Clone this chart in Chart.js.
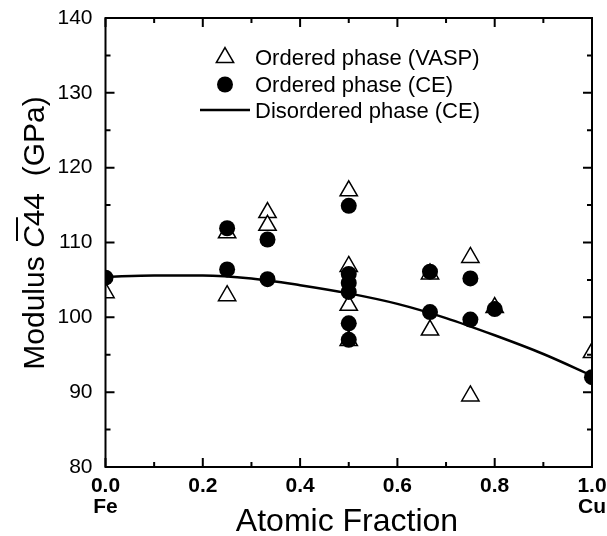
<!DOCTYPE html>
<html>
<head>
<meta charset="utf-8">
<script src="https://cdn.jsdelivr.net/npm/chart.js@4.4.1/dist/chart.umd.min.js"></script>
<style>
html,body{margin:0;padding:0;background:#fff;}
#wrap{width:607px;height:536px;}
</style>
</head>
<body>
<div id="wrap"><canvas id="c" width="607" height="536"></canvas></div>
<script>
// ---- data ----
const vaspX = [0.0, 0.25, 0.25, 0.333, 0.333, 0.5, 0.5, 0.5, 0.5, 0.667, 0.667, 0.75, 0.75, 0.8, 1.0];
const vaspY = [103.3, 111.3, 102.9, 114.0, 112.3, 116.9, 106.8, 101.6, 96.9, 105.8, 98.3, 108.0, 89.5, 101.3, 95.3];
const ceX = [0.0, 0.25, 0.25, 0.333, 0.333, 0.5, 0.5, 0.5, 0.5, 0.5, 0.5, 0.667, 0.667, 0.75, 0.75, 0.8, 1.0];
const ceY = [105.3, 111.9, 106.4, 110.4, 105.1, 114.9, 105.8, 104.6, 103.4, 99.2, 97.0, 106.1, 100.7, 105.2, 99.7, 101.1, 92.0];
const disX = [0.0, 0.1, 0.2, 0.3, 0.4, 0.5, 0.6, 0.7, 0.8, 0.9, 1.0];
const disY = [105.4, 105.6, 105.6, 105.2, 104.3, 103.2, 101.8, 99.9, 97.6, 95.1, 92.2];

const xMajorTicks = [0.0, 0.2, 0.4, 0.6, 0.8, 1.0];
const xMinorTicks = [0.1, 0.3, 0.5, 0.7, 0.9];
const yMajorTicks = [80, 90, 100, 110, 120, 130, 140];
const yMinorTicks = [85, 95, 105, 115, 125, 135];
const xEndNames = {0: 'Fe', 1: 'Cu'};

const seriesNames = ['Ordered phase (VASP)', 'Ordered phase (CE)', 'Disordered phase (CE)'];
const xTitle = 'Atomic Fraction';
const yTitleParts = ['Modulus ', 'C', '44', '  (GPa)'];

const zip = (xs, ys) => xs.map((x, i) => ({x: x, y: ys[i]}));

const framePlugin = {
  id: 'frame',
  afterDatasetsDraw(chart) {
    const ctx = chart.ctx, a = chart.chartArea;
    const xs = chart.scales.x, ys = chart.scales.y;
    ctx.save();
    ctx.strokeStyle = '#000';
    ctx.lineWidth = 2;
    ctx.strokeRect(a.left, a.top, a.right - a.left, a.bottom - a.top);
    ctx.beginPath();
    const xt = (v, len) => {
      const p = xs.getPixelForValue(v);
      ctx.moveTo(p, a.bottom); ctx.lineTo(p, a.bottom - len);
      ctx.moveTo(p, a.top); ctx.lineTo(p, a.top + len);
    };
    const yt = (v, len) => {
      const p = ys.getPixelForValue(v);
      ctx.moveTo(a.left, p); ctx.lineTo(a.left + len, p);
      ctx.moveTo(a.right, p); ctx.lineTo(a.right - len, p);
    };
    xMajorTicks.forEach(v => xt(v, 9));
    xMinorTicks.forEach(v => xt(v, 5));
    yMajorTicks.forEach(v => yt(v, 9));
    yMinorTicks.forEach(v => yt(v, 5));
    ctx.stroke();
    ctx.restore();
  },
  afterDraw(chart) {
    const ctx = chart.ctx;
    ctx.save();
    // legend
    ctx.fillStyle = '#000';
    ctx.strokeStyle = '#000';
    ctx.font = '22px "Liberation Sans", Arial, sans-serif';
    ctx.textBaseline = 'alphabetic';
    ctx.textAlign = 'left';
    const tx = 255;
    const rows = [65, 92, 118];
    const r = 10, cx = 225, cy = 57.5;
    ctx.beginPath();
    for (let k = 0; k < 3; k++) {
      const ang = k * 2 * Math.PI / 3;
      const px = cx + Math.sin(ang) * r, py = cy - Math.cos(ang) * r;
      if (k === 0) ctx.moveTo(px, py); else ctx.lineTo(px, py);
    }
    ctx.closePath();
    ctx.fillStyle = '#fff'; ctx.fill();
    ctx.lineWidth = 1.5; ctx.stroke();
    ctx.fillStyle = '#000';
    ctx.beginPath(); ctx.arc(225, 84.5, 8, 0, 2 * Math.PI); ctx.fill();
    ctx.lineWidth = 2.5;
    ctx.beginPath(); ctx.moveTo(200, 110); ctx.lineTo(250, 110); ctx.stroke();
    seriesNames.forEach((s, i) => ctx.fillText(s, tx, rows[i]));

    // x title
    ctx.font = '32px "Liberation Sans", Arial, sans-serif';
    ctx.textAlign = 'center';
    ctx.fillText(xTitle, 347, 531);

    // y title
    ctx.translate(44, 233);
    ctx.rotate(-Math.PI / 2);
    ctx.textAlign = 'left';
    const fN = '30px "Liberation Sans", Arial, sans-serif';
    const fI = 'italic 30px "Liberation Sans", Arial, sans-serif';
    const fonts = [fN, fI, fN, fN];
    const widths = yTitleParts.map((t, i) => { ctx.font = fonts[i]; return ctx.measureText(t).width; });
    const total = widths.reduce((s, w) => s + w, 0);
    let x = -total / 2;
    yTitleParts.forEach((t, i) => {
      ctx.font = fonts[i];
      ctx.fillText(t, x, 0);
      if (i === 1) {
        ctx.lineWidth = 2;
        ctx.beginPath();
        ctx.moveTo(x + 7, -27); ctx.lineTo(x + widths[1] + 9, -27);
        ctx.stroke();
      }
      x += widths[i];
    });
    ctx.restore();
  }
};

new Chart(document.getElementById('c'), {
  type: 'scatter',
  data: {
    datasets: [
      {
        label: seriesNames[1], data: zip(ceX, ceY), order: 1, clip: 0,
        pointStyle: 'circle', pointRadius: 8, pointHoverRadius: 8,
        backgroundColor: '#000', borderColor: '#000', borderWidth: 0
      },
      {
        label: seriesNames[0], data: zip(vaspX, vaspY), order: 2, clip: 0,
        pointStyle: 'triangle', pointRadius: 10, pointHoverRadius: 10,
        backgroundColor: '#fff', borderColor: '#000', borderWidth: 1.5
      },
      {
        label: seriesNames[2], data: zip(disX, disY), order: 3, clip: 0,
        showLine: true, pointRadius: 0, borderColor: '#000', borderWidth: 2.5,
        cubicInterpolationMode: 'monotone', fill: false
      }
    ]
  },
  options: {
    responsive: false,
    animation: false,
    devicePixelRatio: 1,
    layout: {padding: {top: 18, right: 15, left: 0, bottom: 0}},
    plugins: {legend: {display: false}, tooltip: {enabled: false}},
    scales: {
      x: {
        type: 'linear', min: 0, max: 1,
        grid: {display: false, drawTicks: false},
        border: {display: false},
        afterBuildTicks: s => { s.ticks = xMajorTicks.map(v => ({value: v})); },
        afterFit: s => { s.height = 69; s.paddingLeft = 0; s.paddingRight = 0; },
        ticks: {
          padding: 9, color: '#000', maxRotation: 0, autoSkip: false,
          font: {family: '"Liberation Sans", Arial, sans-serif', size: 21, weight: 'bold', lineHeight: 1.0},
          callback: v => (v in xEndNames) ? [v.toFixed(1), xEndNames[v]] : v.toFixed(1)
        }
      },
      y: {
        type: 'linear', min: 80, max: 140,
        grid: {display: false, drawTicks: false},
        border: {display: false},
        afterBuildTicks: s => { s.ticks = yMajorTicks.map(v => ({value: v})); },
        afterFit: s => { s.width = 105.5; s.paddingTop = 0; s.paddingBottom = 0; },
        ticks: {
          padding: 13, color: '#000',
          font: {family: '"Liberation Sans", Arial, sans-serif', size: 21},
          callback: v => String(v)
        }
      }
    }
  },
  plugins: [framePlugin]
});
</script>
</body>
</html>
